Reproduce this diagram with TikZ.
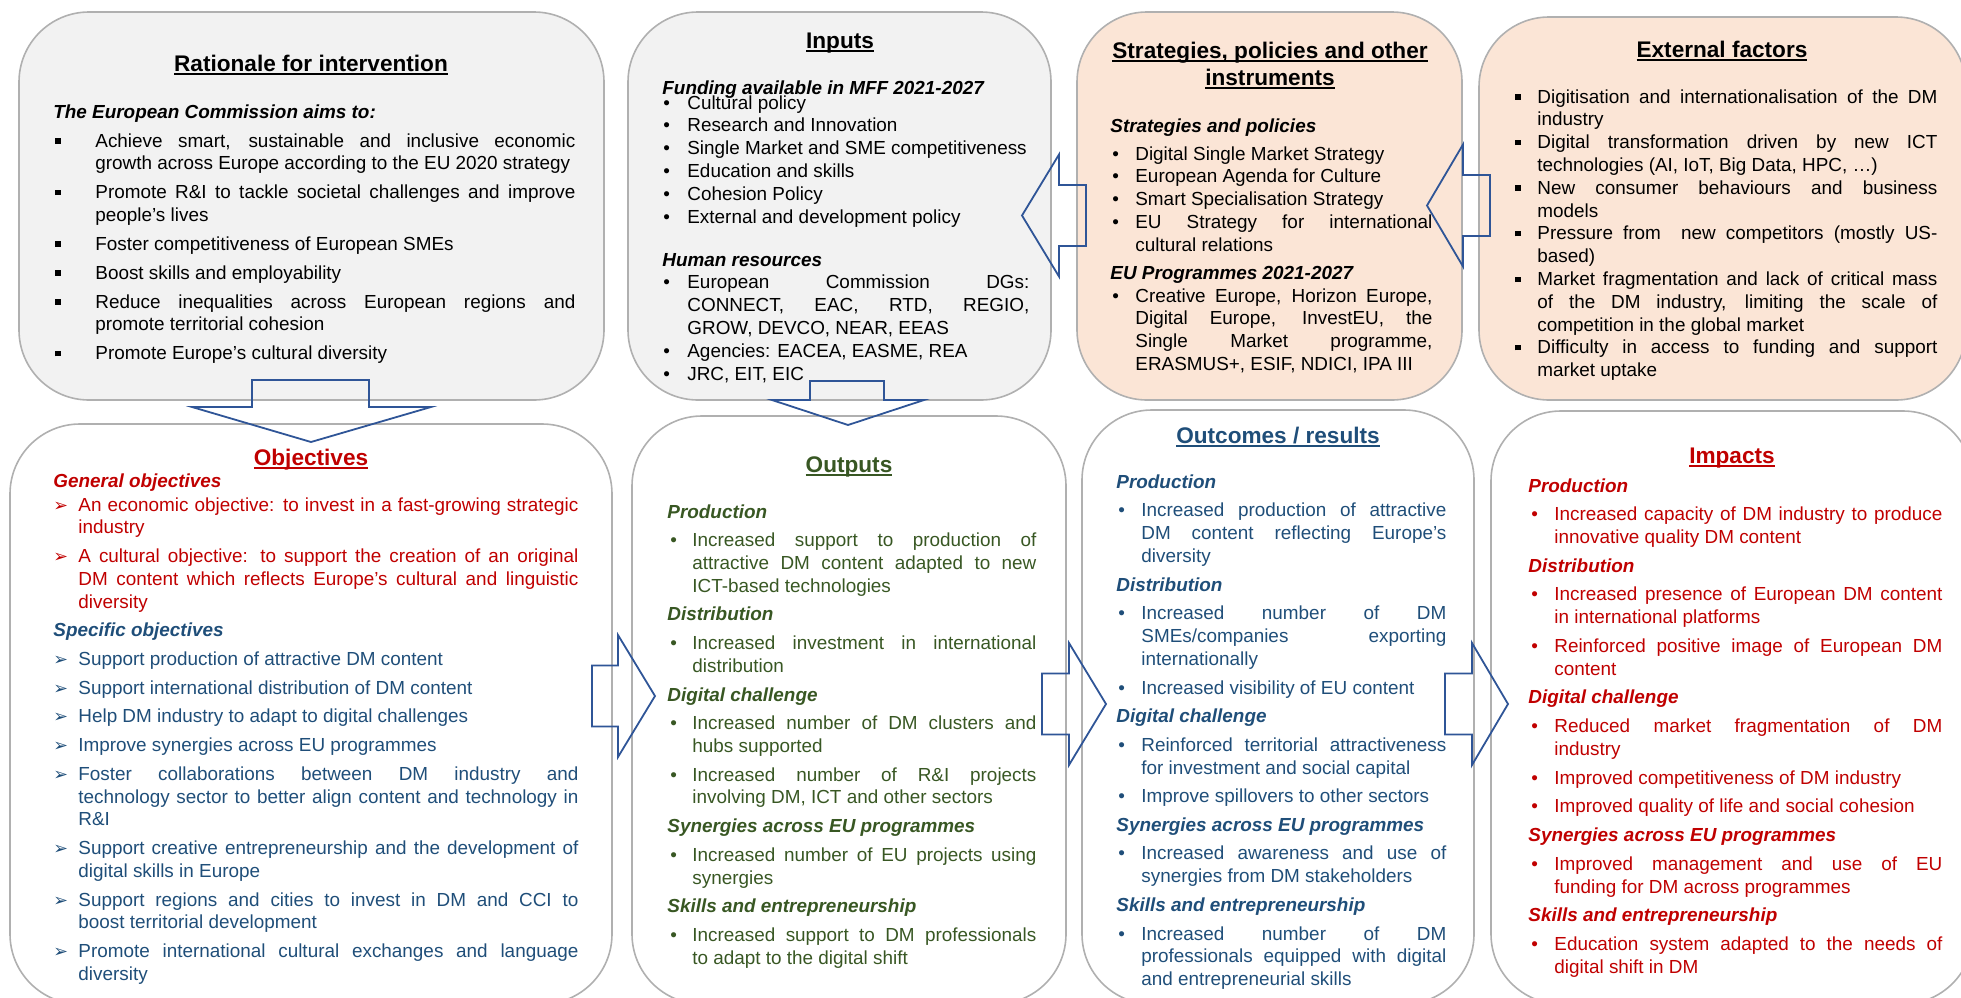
\documentclass[tikz,border=0pt]{standalone}
\usepackage{fontspec}
\setmainfont{Liberation Sans}
\newfontfamily\arrowfont{DejaVu Sans}
\usetikzlibrary{fit}

\definecolor{panelgray}{HTML}{F2F2F2}
\definecolor{panelpeach}{HTML}{FBE5D6}
\definecolor{edgegray}{HTML}{B0B0B0}
\definecolor{arrowblue}{HTML}{2F5597}
\definecolor{objred}{HTML}{C00000}
\definecolor{objblue}{HTML}{1F4E79}
\definecolor{outgreen}{HTML}{385723}

\tolerance=10000
\hbadness=10000
\hyphenpenalty=10000

% list layout inside the panels
\newlength{\itemind}
\newlength{\bulind}
\newcommand{\bulsym}{\textbullet}
\newcommand{\sqbul}{\rule[1.7pt]{2.7pt}{2.7pt}}
\newcommand{\arrbul}{{\arrowfont\fontsize{8.8}{9}\selectfont ➢}}
\newcommand{\listsetup}[3]{\setlength{\itemind}{#1}\setlength{\bulind}{#2}\setlength{\parskip}{#3}}
\newcommand{\bitem}[1]{\noindent\hangindent=\itemind\hangafter=1\relax\hbox to \itemind{\hskip\bulind\bulsym\hfil}\ignorespaces#1\par}
\newcommand{\subhead}[1]{\noindent\textbf{\textit{#1}}\par}
\newsavebox{\ulbox}
\newcommand{\ultitle}[1]{\sbox{\ulbox}{#1}\rlap{\rule[-2pt]{\wd\ulbox}{0.85pt}}\usebox{\ulbox}}

\tikzset{
    panel/.style={
        draw=edgegray, line width=0.8pt, rounded corners=35pt, inner sep=0pt
    },
    paneltitle/.style={
        anchor=base, inner sep=0pt, font=\fontsize{11.3}{13.5}\selectfont\bfseries
    },
    paneltext/.style={
        anchor=base west, inner sep=0pt, align=justify,
        font=\fontsize{9.45}{11.4}\selectfont
    },
    blockarrow/.style={
        draw=arrowblue, line width=0.9pt, line join=miter
    }
}

\begin{document}
\begin{tikzpicture}[x=0.5pt, y=-0.5pt]
    \clip (0,0) rectangle (1961,997);

    % draw panels
    \node[panel, fill=panelgray, fit={(19,12) (604,400)}] (rationale) {};
    \node[panel, fill=panelgray, fit={(628,12) (1051,400)}] (inputs) {};
    \node[panel, fill=panelpeach, fit={(1077,12) (1462,400)}] (strategies) {};
    \node[panel, fill=panelpeach, fit={(1479,17) (1966,400)}] (external) {};
    \node[panel, fit={(10,424) (612,1004)}] (objectives) {};
    \node[panel, fit={(632,416) (1066,1004)}] (outputs) {};
    \node[panel, fit={(1082,410) (1474,1004)}] (outcomes) {};
    \node[panel, fit={(1491,411) (1973,1004)}] (impacts) {};

    % panel titles
    \node[paneltitle] (rationaletitle) at (311,71) {\ultitle{Rationale for intervention}};
    \node[paneltitle] (inputstitle) at (840,48) {\ultitle{Inputs}};
    \node[paneltitle] (strategiestitle) at (1270,58) {\ultitle{Strategies, policies and other}};
    \node[paneltitle] (strategiestitleb) at (1270,85) {\ultitle{instruments}};
    \node[paneltitle] (externaltitle) at (1722,57) {\ultitle{External factors}};
    \node[paneltitle, text=objred] (objectivestitle) at (311,465) {\ultitle{Objectives}};
    \node[paneltitle, text=outgreen] (outputstitle) at (849,472) {\ultitle{Outputs}};
    \node[paneltitle, text=objblue] (outcomestitle) at (1278,443) {\ultitle{Outcomes / results}};
    \node[paneltitle, text=objred] (impactstitle) at (1732,463) {\ultitle{Impacts}};

    % top row texts
    \node[paneltext, text width=261pt, font=\fontsize{9.45}{11.3}\selectfont] (rationaletext) at (53,118) {%
        \listsetup{21pt}{1pt}{3.2pt}\let\bulsym\sqbul%
        \subhead{The European Commission aims to:}
        \bitem{Achieve smart, sustainable and inclusive economic \linebreak growth across Europe according to the EU 2020 strategy}
        \bitem{Promote R\&I to tackle societal challenges and improve \linebreak people's lives}
        \bitem{Foster competitiveness of European SMEs}
        \bitem{Boost skills and employability}
        \bitem{Reduce inequalities across European regions and \linebreak promote territorial cohesion}
        \bitem{Promote Europe’s cultural diversity}
    };
    \node[paneltext, text width=183.5pt] (inputstext) at (662,94) {%
        \listsetup{12.5pt}{0.5pt}{0pt}%
        \subhead{Funding available in MFF 2021-2027}
        \vspace{-3.9pt}
        \bitem{Cultural policy}
        \bitem{Research and Innovation}
        \bitem{Single Market and SME competitiveness}
        \bitem{Education and skills}
        \bitem{Cohesion Policy}
        \bitem{External and development policy}
        \vspace{10.1pt}
        \subhead{Human resources}
        \bitem{European Commission DGs: \linebreak CONNECT, EAC, RTD, REGIO, \linebreak GROW, DEVCO, NEAR, EEAS}
        \bitem{Agencies: EACEA, EASME, REA}
        \bitem{JRC, EIT, EIC}
    };
    \node[paneltext, text width=161pt] (strategiestext) at (1110,132) {%
        \listsetup{12.5pt}{1pt}{0pt}%
        \subhead{Strategies and policies}
        \vspace{2.6pt}
        \bitem{Digital Single Market Strategy}
        \bitem{European Agenda for Culture}
        \bitem{Smart Specialisation Strategy}
        \bitem{EU Strategy for international \linebreak cultural relations}
        \vspace{2.6pt}
        \subhead{EU Programmes 2021-2027}
        \bitem{Creative Europe, Horizon Europe, \linebreak Digital Europe, InvestEU, the \linebreak Single Market programme, \linebreak \mbox{ERASMUS+, ESIF, NDICI, IPA III}}
    };
    \node[paneltext, text width=211pt] (externaltext) at (1515,103) {%
        \listsetup{11pt}{0pt}{0pt}\let\bulsym\sqbul%
        \bitem{Digitisation and internationalisation of the DM \linebreak industry}
        \bitem{Digital transformation driven by new ICT \linebreak technologies (AI, IoT, Big Data, HPC, …)}
        \bitem{New consumer behaviours and business \linebreak models}
        \bitem{Pressure from\ \ new competitors (mostly US-\linebreak based)}
        \bitem{Market fragmentation and lack of critical mass \linebreak of the DM industry, limiting the scale of \linebreak competition in the global market}
        \bitem{Difficulty in access to funding and support \linebreak market uptake}
    };

    % bottom row texts
    \node[paneltext, text width=262.5pt, text=objred] (objectivestext) at (53,487) {%
        \listsetup{12.5pt}{0pt}{2.95pt}\let\bulsym\arrbul%
        \subhead{General objectives}
        \vspace{-2.35pt}
        \bitem{An economic objective: to invest in a fast-growing strategic \linebreak industry}
        \bitem{A cultural objective: to support the creation of an original \linebreak DM content which reflects Europe’s cultural and linguistic \linebreak diversity}
        \color{objblue}
        \subhead{Specific objectives}
        \bitem{Support production of attractive DM content}
        \bitem{Support international distribution of DM content}
        \bitem{Help DM industry to adapt to digital challenges}
        \bitem{Improve synergies across EU programmes}
        \bitem{Foster collaborations between DM industry and \linebreak technology sector to better align content and technology in \linebreak R\&I}
        \bitem{Support creative entrepreneurship and the development of \linebreak digital skills in Europe}
        \bitem{Support regions and cities to invest in DM and CCI to \linebreak boost territorial development}
        \bitem{Promote international cultural exchanges and language \linebreak diversity}
    };
    \node[paneltext, text width=184.5pt, text=outgreen, font=\fontsize{9.45}{11.3}\selectfont] (outputstext) at (667,518) {%
        \listsetup{12.5pt}{1.5pt}{3.1pt}%
        \subhead{Production}
        \bitem{Increased support to production of \linebreak attractive DM content adapted to new \linebreak ICT-based technologies}
        \subhead{Distribution}
        \bitem{Increased investment in international \linebreak distribution}
        \subhead{Digital challenge}
        \bitem{Increased number of DM clusters and \linebreak hubs supported}
        \bitem{Increased number of R\&I projects \linebreak involving DM, ICT and other sectors}
        \subhead{Synergies across EU programmes}
        \bitem{Increased number of EU projects using \linebreak synergies}
        \subhead{Skills and entrepreneurship}
        \bitem{Increased support to DM professionals \linebreak to adapt to the digital shift}
    };
    \node[paneltext, text width=165pt, text=objblue, font=\fontsize{9.45}{11.45}\selectfont] (outcomestext) at (1116,488) {%
        \listsetup{12.5pt}{1pt}{2.85pt}%
        \subhead{Production}
        \bitem{Increased production of attractive \linebreak DM content reflecting Europe’s \linebreak diversity}
        \subhead{Distribution}
        \bitem{Increased number of DM \linebreak SMEs/companies exporting \linebreak internationally}
        \bitem{Increased visibility of EU content}
        \subhead{Digital challenge}
        \bitem{Reinforced territorial attractiveness \linebreak for investment and social capital}
        \bitem{Improve spillovers to other sectors}
        \subhead{Synergies across EU programmes}
        \bitem{Increased awareness and use of \linebreak synergies from DM stakeholders}
        \subhead{Skills and entrepreneurship}
        \bitem{Increased number of DM \linebreak professionals equipped with digital \linebreak and entrepreneurial skills}
    };
    \node[paneltext, text width=207pt, text=objred] (impactstext) at (1528,492) {%
        \listsetup{13pt}{1.5pt}{2.95pt}%
        \subhead{Production}
        \bitem{Increased capacity of DM industry to produce \linebreak innovative quality DM content}
        \subhead{Distribution}
        \bitem{Increased presence of European DM content \linebreak in international platforms}
        \bitem{Reinforced positive image of European DM \linebreak content}
        \subhead{Digital challenge}
        \bitem{Reduced market fragmentation of DM \linebreak industry}
        \bitem{Improved competitiveness of DM industry}
        \bitem{Improved quality of life and social cohesion}
        \subhead{Synergies across EU programmes}
        \bitem{Improved management and use of EU \linebreak funding for DM across programmes}
        \subhead{Skills and entrepreneurship}
        \bitem{Education system adapted to the needs of \linebreak digital shift in DM}
    };

    % block arrows between the panels
    \draw[blockarrow] (252,380) -- (369,380) -- (369,407) -- (431,407) -- (311,442) -- (192,407) -- (252,407) -- cycle;
    \draw[blockarrow] (810,381) -- (884,381) -- (884,400) -- (924,400) -- (848,425) -- (772,400) -- (810,400) -- cycle;
    \foreach \ax/\bx/\cx/\cy in {1086/1059/1022/215.5, 1490/1463/1427/205.5, 592/618/655/696, 1042/1069/1106/704, 1445/1472/1508/704}
    {
        \draw[blockarrow] (\ax,\cy-30.5) -- (\bx,\cy-30.5) -- (\bx,\cy-61) -- (\cx,\cy) -- (\bx,\cy+61) -- (\bx,\cy+30.5) -- (\ax,\cy+30.5) -- cycle;
    }
\end{tikzpicture}
\end{document}
